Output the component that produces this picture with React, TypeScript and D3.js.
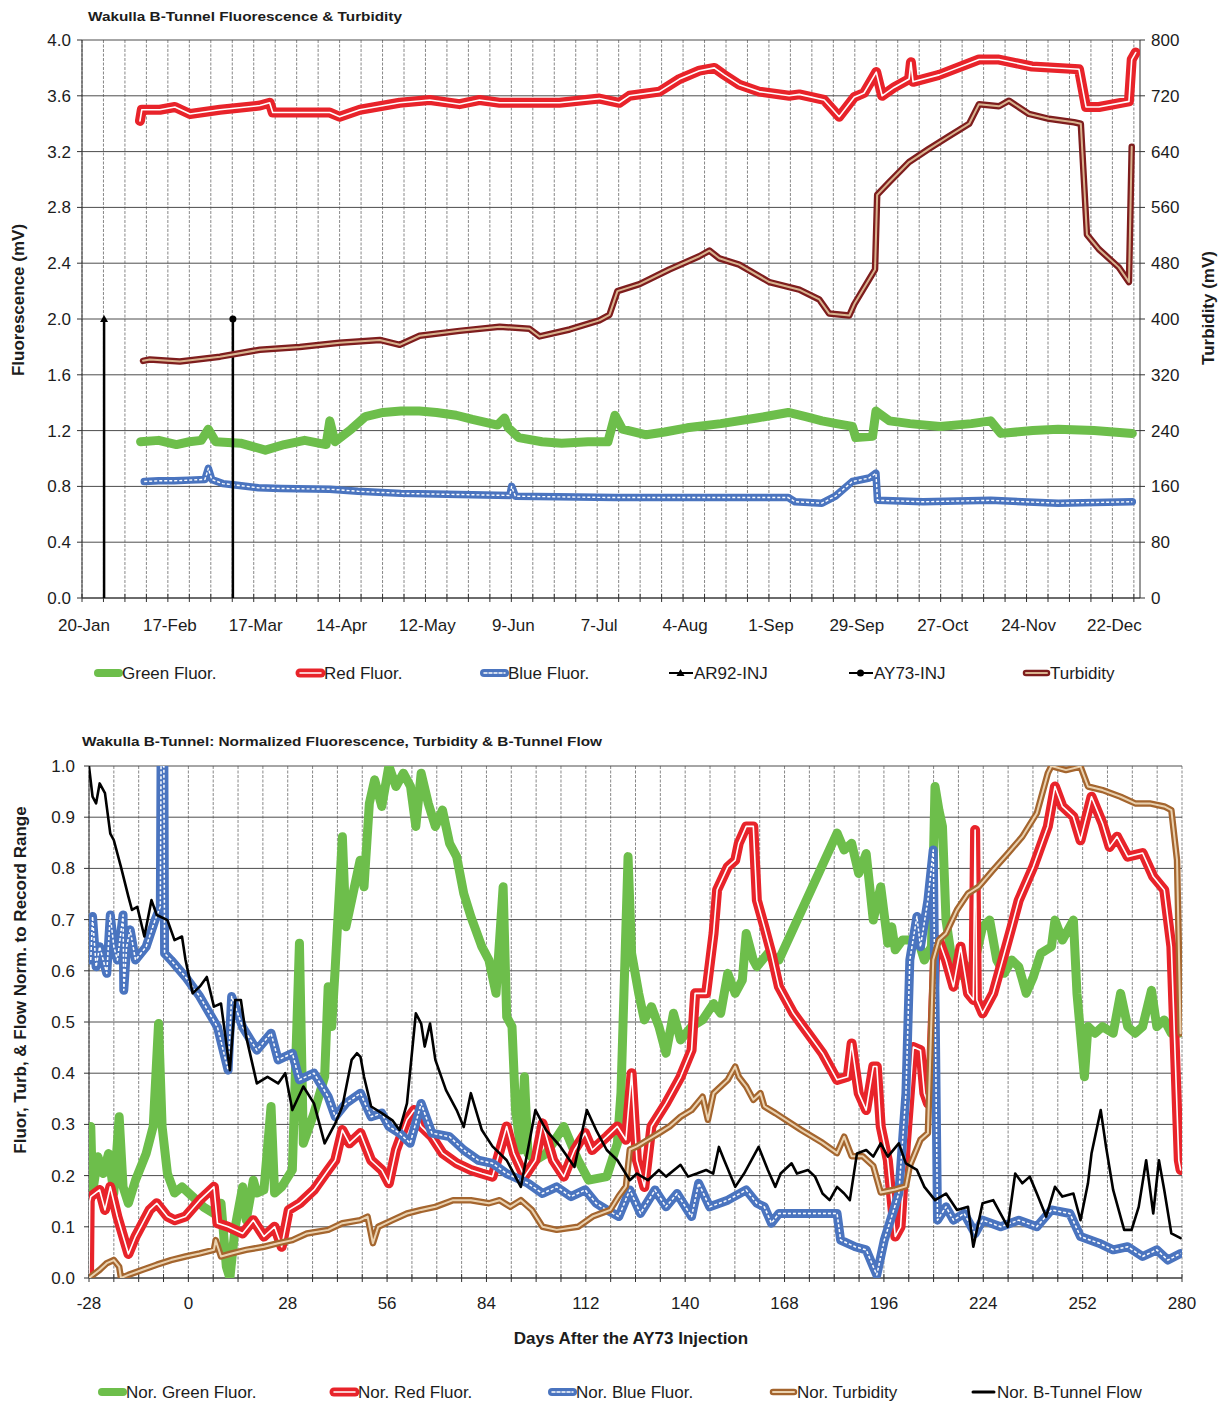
import React from "react";
import * as d3 from "d3";

type P = [number, number];

// ---------- TOP CHART DATA (day 0 = 20-Jan) ----------
const topDayTicks = [0, 28, 56, 84, 112, 140, 168, 196, 224, 252, 280, 308, 336];
const topTickLabels = ["20-Jan", "17-Feb", "17-Mar", "14-Apr", "12-May", "9-Jun", "7-Jul", "4-Aug", "1-Sep", "29-Sep", "27-Oct", "24-Nov", "22-Dec"];
const fluorTicks = [0, 0.4, 0.8, 1.2, 1.6, 2.0, 2.4, 2.8, 3.2, 3.6, 4.0];
const turbTicks = [0, 80, 160, 240, 320, 400, 480, 560, 640, 720, 800];

const greenTop: P[] = [[19.1,1.12],[25,1.13],[30.8,1.10],[35,1.12],[38.9,1.13],[41.2,1.21],[43.6,1.12],[51.7,1.11],[59.8,1.06],[66,1.10],[72.6,1.13],[79.6,1.10],[80.8,1.27],[82.5,1.12],[87.8,1.21],[92.4,1.30],[98.2,1.33],[104,1.34],[110,1.34],[115.6,1.33],[122,1.31],[127.3,1.28],[135.5,1.24],[137.8,1.29],[139,1.22],[142.4,1.15],[150,1.12],[156.4,1.11],[165,1.12],[171.5,1.12],[173.8,1.31],[176.2,1.21],[184,1.17],[190,1.19],[197.3,1.22],[208.3,1.25],[220,1.29],[230.3,1.33],[236,1.30],[241.3,1.27],[246,1.25],[251.2,1.23],[252.3,1.15],[257.8,1.16],[258.9,1.34],[263.3,1.27],[270,1.25],[279.8,1.23],[290,1.25],[296.3,1.27],[299.6,1.18],[310,1.20],[318.3,1.21],[330,1.20],[342.5,1.18]];

const redTop: P[] = [[18.9,3.42],[19.5,3.50],[25.4,3.50],[30.3,3.52],[35.2,3.47],[45,3.50],[58,3.53],[61.2,3.55],[62.2,3.48],[71,3.48],[80.8,3.48],[84,3.45],[90.6,3.50],[103.6,3.55],[113.4,3.57],[123.1,3.54],[129.6,3.57],[136.2,3.55],[145.9,3.55],[155.7,3.55],[168.7,3.58],[175.2,3.55],[178.5,3.60],[188.3,3.63],[194.8,3.72],[201.3,3.78],[206.2,3.80],[209.4,3.75],[214.3,3.68],[220.8,3.63],[230.6,3.60],[233.9,3.61],[242,3.57],[246.9,3.45],[251.8,3.59],[255,3.62],[259,3.77],[260.9,3.60],[264.8,3.66],[269.7,3.72],[270.3,3.84],[271,3.70],[279.5,3.75],[292.5,3.86],[299,3.86],[309.8,3.81],[325.1,3.79],[327.4,3.52],[331.6,3.52],[341.4,3.56],[342.3,3.86],[343.6,3.91]];

const blueTop: P[] = [[20.3,0.835],[25,0.84],[30,0.84],[35,0.845],[40.1,0.85],[41.2,0.93],[42.3,0.85],[45.9,0.82],[50,0.81],[57.5,0.79],[65,0.785],[80.8,0.78],[90,0.765],[104,0.75],[115,0.745],[127.3,0.74],[139.5,0.735],[140.1,0.80],[141.3,0.73],[155,0.725],[173.8,0.72],[190,0.72],[208.3,0.72],[230.3,0.72],[232.5,0.69],[241.3,0.68],[245.7,0.73],[251.2,0.835],[256.7,0.86],[258.9,0.895],[259.4,0.70],[274.3,0.69],[296.3,0.70],[318.3,0.68],[342.5,0.69]];

const turbTop: P[] = [[19.9,340],[22.1,342],[31.9,339],[45,346],[58,356],[71,360],[84,366],[97.1,370],[103.6,363],[110.1,376],[123.1,383],[136.2,389],[145.9,386],[149.2,375],[159,385],[168.7,398],[172,406],[174.6,440],[181.8,450],[191.5,471],[201.3,490],[204.6,498],[207.8,487],[214.3,478],[224.1,453],[233.9,442],[240.4,428],[243.6,408],[250.2,405],[251.8,421],[256.7,457],[258.6,471],[259.3,578],[263.2,596],[269.7,625],[276.2,644],[282.7,662],[289.3,680],[292.5,708],[299,705],[302.3,713],[308.8,694],[315.3,687],[323.5,682],[325.7,680],[327.7,521],[331.6,500],[338.1,474],[341.4,453],[342.3,647]];

const ar92Inj: P[] = [[7.2,0],[7.2,2.0]];
const ay73Inj: P[] = [[49.2,0],[49.2,2.0]];

// ---------- BOTTOM CHART DATA (days after AY73 injection) ----------
const dayTicks = [-28, 0, 28, 56, 84, 112, 140, 168, 196, 224, 252, 280];
const normTicks = [0, 0.1, 0.2, 0.3, 0.4, 0.5, 0.6, 0.7, 0.8, 0.9, 1.0];

const greenBot: P[] = [[-27.5,0.296],[-27,0.166],[-25.5,0.237],[-24,0.204],[-22.5,0.243],[-21,0.166],[-19.5,0.315],[-18.4,0.178],[-16.9,0.146],[-14.9,0.191],[-11.9,0.243],[-9.9,0.296],[-8.4,0.497],[-7.4,0.296],[-5.9,0.204],[-3.9,0.166],[-1.8,0.178],[1.2,0.159],[4.2,0.139],[7.2,0.126],[9.2,0.146],[10.7,0.022],[11.7,0.0],[13.2,0.1],[15.3,0.178],[16.3,0.113],[18.3,0.191],[19.3,0.166],[21.3,0.172],[23.3,0.335],[24.3,0.166],[26.3,0.178],[29.3,0.211],[31.3,0.654],[32.4,0.263],[35.4,0.322],[38.4,0.393],[39.4,0.569],[40.4,0.491],[41.4,0.608],[43.4,0.862],[44.4,0.686],[46.4,0.751],[48.4,0.816],[49.5,0.764],[51,0.927],[52.5,0.973],[54.5,0.921],[56.5,1.0],[58.5,0.96],[60.6,0.986],[62.6,0.96],[64.1,0.882],[65.6,0.986],[67.6,0.927],[69.6,0.882],[71.6,0.914],[73.6,0.849],[75.6,0.823],[77.6,0.751],[79.6,0.706],[82.7,0.647],[84.7,0.621],[86.7,0.556],[88.7,0.764],[89.7,0.510],[91.2,0.491],[92.2,0.328],[93.7,0.25],[94.7,0.393],[95.7,0.243],[97.8,0.23],[100.8,0.243],[105.8,0.296],[109.8,0.23],[112.8,0.191],[117.9,0.198],[120.9,0.263],[121.9,0.361],[123.9,0.823],[124.9,0.634],[126.9,0.556],[128.5,0.504],[130.5,0.530],[132.6,0.491],[134.6,0.439],[136.7,0.517],[138.7,0.465],[141.8,0.491],[144.9,0.504],[148,0.536],[150,0.517],[152,0.595],[154.1,0.556],[156.1,0.582],[157.2,0.673],[159.2,0.621],[160.2,0.608],[163.3,0.634],[166.4,0.621],[182.8,0.869],[184.8,0.836],[186.9,0.849],[188.9,0.790],[191,0.829],[193,0.699],[195.1,0.764],[197.1,0.654],[198.2,0.686],[199.2,0.641],[201.2,0.660],[203.3,0.660],[205.3,0.667],[207.4,0.621],[209.4,0.647],[210.4,0.960],[211.5,0.914],[212.5,0.882],[213.5,0.699],[215.6,0.601],[218.6,0.588],[221.7,0.621],[223.8,0.686],[225.8,0.699],[227.8,0.621],[229.9,0.595],[232,0.621],[234,0.608],[236.1,0.556],[238.1,0.588],[240.2,0.634],[243.2,0.647],[244.2,0.699],[246.3,0.660],[249.4,0.699],[250.4,0.556],[252.5,0.393],[253.5,0.491],[255.5,0.478],[257.6,0.491],[260.6,0.478],[262.7,0.556],[264.7,0.491],[266.8,0.478],[268.9,0.491],[271.4,0.562],[272.9,0.491],[275,0.504],[277,0.478],[279.1,0.478]];

const redBot: P[] = [[-28,0.0],[-27.8,0.15],[-27.5,0.159],[-25,0.172],[-23.5,0.133],[-22,0.178],[-20,0.12],[-16.9,0.047],[-14.9,0.081],[-10.9,0.133],[-8.9,0.146],[-5.9,0.12],[-3.9,0.113],[-0.8,0.12],[3.2,0.152],[7.2,0.178],[8.2,0.107],[11.2,0.1],[15.3,0.087],[18.3,0.113],[21.3,0.081],[24.3,0.1],[26.3,0.061],[28.3,0.133],[31.4,0.146],[35.4,0.172],[39.4,0.211],[41.4,0.23],[43.4,0.289],[45.4,0.263],[48.5,0.283],[51.5,0.23],[54.5,0.211],[56.5,0.185],[58.5,0.25],[61.6,0.309],[63.6,0.328],[65.6,0.296],[68.6,0.276],[71.6,0.244],[75.6,0.224],[79.6,0.211],[82.7,0.204],[85.7,0.198],[89.7,0.296],[91.7,0.244],[94.7,0.198],[97.8,0.23],[99.8,0.302],[102.8,0.23],[105.8,0.198],[108.8,0.25],[111.8,0.283],[113.8,0.25],[117.9,0.276],[120.9,0.296],[123.3,0.27],[124.9,0.4],[126.4,0.23],[128.5,0.178],[130.5,0.296],[134.6,0.341],[138.7,0.393],[141.8,0.445],[142.8,0.556],[145.9,0.556],[148,0.673],[149,0.758],[152,0.803],[154.1,0.816],[155.1,0.849],[157.2,0.882],[159.2,0.882],[160.2,0.738],[162.3,0.686],[164.3,0.634],[166.4,0.569],[170.5,0.517],[174.6,0.478],[178.7,0.439],[182.8,0.387],[185.8,0.393],[186.9,0.458],[188.9,0.361],[191,0.328],[193,0.413],[194,0.413],[195.1,0.296],[197.1,0.23],[199.2,0.081],[200.7,0.1],[202.2,0.263],[204.3,0.451],[206.3,0.445],[207.4,0.361],[208.4,0.341],[209.4,0.426],[210.4,0.621],[211.5,0.66],[213.5,0.621],[215.6,0.569],[217.6,0.647],[219.7,0.556],[221.2,0.543],[221.7,0.875],[222.2,0.543],[223.8,0.517],[226.8,0.556],[228.9,0.608],[232,0.686],[234,0.738],[238.1,0.803],[242.2,0.882],[244.2,0.960],[246.3,0.921],[249.4,0.901],[251.4,0.855],[254.5,0.940],[257.6,0.888],[259.6,0.842],[261.7,0.862],[264.7,0.823],[268.9,0.830],[271.9,0.784],[275,0.758],[277,0.647],[279.1,0.23],[279.6,0.211]];

const blueBot: P[] = [[-27.5,0.621],[-27,0.706],[-26,0.608],[-25,0.647],[-23,0.595],[-22,0.709],[-21,0.647],[-20,0.621],[-18.4,0.709],[-18.2,0.562],[-17.4,0.647],[-16.4,0.68],[-14.9,0.621],[-11.9,0.647],[-9.4,0.699],[-7.9,0.725],[-7.7,1.0],[-6.9,1.0],[-6.7,0.634],[-4.9,0.621],[-0.8,0.588],[3.2,0.55],[8.2,0.49],[11.2,0.406],[12.2,0.55],[15.3,0.49],[19.3,0.445],[23.3,0.478],[25.3,0.426],[29.3,0.439],[31.3,0.387],[35.4,0.40],[39.4,0.354],[41.4,0.315],[44.4,0.341],[48.5,0.361],[51.5,0.315],[54.5,0.322],[56.5,0.296],[59.5,0.283],[62.5,0.263],[65.6,0.341],[68.6,0.283],[73.6,0.276],[77.6,0.25],[81.7,0.23],[85.7,0.224],[89.7,0.204],[95.7,0.185],[99.8,0.165],[103.8,0.178],[107.8,0.159],[111.8,0.172],[114.9,0.146],[117.9,0.133],[121.3,0.12],[124.4,0.172],[127.4,0.126],[131.5,0.172],[134.6,0.139],[137.7,0.165],[141.8,0.12],[143.8,0.185],[146.9,0.139],[152,0.152],[157.2,0.172],[160.2,0.146],[162.3,0.139],[164.3,0.107],[166.4,0.126],[182.8,0.126],[183.8,0.074],[187.9,0.061],[191,0.055],[193,0.022],[194,0.006],[196.1,0.074],[200.2,0.165],[202.2,0.36],[203.3,0.621],[205.3,0.706],[206.3,0.647],[208.4,0.738],[209.9,0.836],[210.6,0.426],[211.1,0.113],[213.5,0.139],[215.6,0.113],[218.6,0.126],[221.7,0.087],[223.8,0.113],[228.9,0.1],[234,0.113],[239.1,0.1],[243.2,0.133],[248.4,0.126],[251.4,0.081],[256.6,0.068],[260.6,0.055],[264.7,0.061],[268.9,0.042],[272.9,0.055],[276,0.035],[279.6,0.048]];

const turbBot: P[] = [[-28,0.0],[-25,0.016],[-23,0.029],[-21,0.035],[-19.5,0.022],[-19,0.0],[-16.9,0.006],[-12.9,0.016],[-8.9,0.026],[-4.9,0.035],[-0.8,0.042],[3.2,0.048],[7.2,0.055],[7.7,0.074],[9.2,0.042],[12.2,0.048],[16.3,0.055],[21.3,0.061],[25.3,0.068],[29.3,0.074],[33.4,0.087],[39.4,0.094],[43.4,0.107],[48.4,0.113],[50.5,0.12],[52,0.068],[53.5,0.1],[57.5,0.113],[61.6,0.126],[65.6,0.133],[69.6,0.139],[74.6,0.152],[79.6,0.152],[84.7,0.146],[87.7,0.152],[90.7,0.139],[93.7,0.152],[96.8,0.133],[99.8,0.1],[103.8,0.094],[109.8,0.1],[113.9,0.12],[118.9,0.133],[121.3,0.16],[123.3,0.179],[124.4,0.251],[126.4,0.257],[129.5,0.27],[132.6,0.283],[135.6,0.296],[138.7,0.315],[141.8,0.328],[144.9,0.354],[146.4,0.309],[148,0.361],[152,0.387],[154.1,0.413],[155.1,0.393],[157.2,0.374],[159.2,0.348],[161.2,0.361],[162.3,0.335],[165.4,0.322],[172.5,0.29],[178.7,0.264],[182.8,0.244],[184.8,0.276],[186.9,0.238],[190,0.238],[193,0.219],[195.1,0.167],[199.2,0.173],[202.2,0.179],[203.3,0.219],[206.3,0.27],[208.4,0.283],[209.9,0.621],[211.5,0.660],[213.5,0.673],[216.6,0.719],[219.7,0.751],[222.7,0.764],[226.8,0.797],[231,0.830],[235,0.862],[239.1,0.908],[242.2,0.986],[243.2,1.0],[247.3,0.992],[251.4,0.999],[253.5,0.960],[257.6,0.953],[262.7,0.940],[266.8,0.927],[270.9,0.927],[275,0.921],[277,0.914],[278.6,0.816],[279.6,0.478]];

const flowBot: P[] = [[-28,0.999],[-27,0.94],[-26,0.927],[-25,0.966],[-23.5,0.947],[-22,0.868],[-21,0.855],[-19,0.803],[-16.9,0.745],[-15.9,0.719],[-14.4,0.725],[-12.4,0.667],[-10.4,0.738],[-8.9,0.709],[-5.9,0.699],[-3.9,0.66],[-1.8,0.667],[-0.8,0.621],[1.2,0.556],[3.2,0.569],[5.2,0.588],[7.2,0.530],[9.2,0.536],[11.7,0.406],[13.2,0.543],[14.8,0.543],[16.3,0.471],[19.3,0.38],[22.3,0.393],[25.3,0.38],[27.3,0.40],[29.3,0.328],[32.4,0.374],[35.4,0.341],[38.4,0.263],[41.4,0.302],[43.4,0.335],[46,0.426],[47.5,0.439],[48.5,0.432],[49.5,0.393],[51.5,0.335],[54.5,0.322],[57.5,0.308],[59.5,0.289],[61.6,0.341],[64.1,0.517],[65.6,0.497],[66.6,0.452],[68.1,0.497],[69.6,0.426],[72.6,0.367],[75.6,0.328],[77.6,0.295],[79.6,0.361],[82.7,0.289],[85.7,0.257],[89.7,0.23],[93.7,0.178],[97.8,0.328],[100.8,0.289],[104.8,0.257],[108.8,0.217],[112.3,0.328],[114.9,0.289],[117.9,0.25],[120.9,0.23],[124.4,0.191],[126.4,0.204],[129.5,0.191],[132.6,0.211],[134.6,0.198],[138.7,0.221],[140.8,0.198],[143.3,0.204],[145.9,0.211],[147.9,0.204],[149.5,0.256],[151,0.23],[154.1,0.178],[156.6,0.204],[160.7,0.256],[163.3,0.211],[165.4,0.178],[166.9,0.204],[170,0.224],[171.5,0.204],[174.6,0.211],[176.6,0.198],[178.7,0.165],[180.7,0.152],[182.8,0.178],[184.8,0.165],[186.4,0.152],[188.4,0.243],[191,0.25],[193,0.237],[195.1,0.263],[197.1,0.237],[200.2,0.263],[202.2,0.224],[205.3,0.211],[207.4,0.178],[210.4,0.152],[213.5,0.165],[216.6,0.133],[219.7,0.139],[221.2,0.061],[223.8,0.146],[226.8,0.152],[230.9,0.1],[233,0.204],[235,0.185],[237.1,0.198],[239.1,0.165],[241.7,0.12],[244.2,0.178],[246.3,0.159],[249.4,0.165],[251.4,0.113],[253.5,0.185],[254.5,0.243],[257.1,0.328],[258.6,0.256],[260.6,0.172],[263.7,0.094],[265.8,0.094],[267.8,0.139],[269.9,0.23],[271.9,0.126],[273.5,0.23],[275,0.172],[277,0.087],[279.6,0.078]];

// ---------- STYLE ----------
const FONT = "'Liberation Sans', Arial, Helvetica, sans-serif";
const GREEN = "#6DBE4B";
const RED = "#E8232A";
const BLUE = "#4A74BF";
const MAROON = "#7E1D1D";
const MAROON_IN = "#D9B48F";
const BROWN = "#A4652E";
const BROWN_IN = "#EAD2B0";
const TXT = "#1c1c1c";

function lineGen(xs: d3.ScaleLinear<number, number>, ys: d3.ScaleLinear<number, number>) {
  return d3.line<P>().x((d) => xs(d[0])).y((d) => ys(d[1]));
}

type SwatchKind = "green" | "red" | "blue" | "maroon" | "brown" | "black" | "tri" | "circ";

function Swatch({ x, y, kind }: { x: number; y: number; kind: SwatchKind }) {
  const x2 = x + 27;
  const L = (stroke: string, w: number, extra: any = {}) => (
    <line x1={x + 3} x2={x2 - 3} y1={y} y2={y} stroke={stroke} strokeWidth={w} strokeLinecap="round" {...extra} />
  );
  switch (kind) {
    case "green":
      return L(GREEN, 8);
    case "red":
      return <g>{L(RED, 9)}{L("#fff", 1.5)}</g>;
    case "blue":
      return <g>{L(BLUE, 8)}{L("#fff", 1.5, { strokeDasharray: "3,2" })}</g>;
    case "maroon":
      return <g>{L(MAROON, 6.5)}{L(MAROON_IN, 2)}</g>;
    case "brown":
      return <g>{L(BROWN, 6.5)}{L(BROWN_IN, 2)}</g>;
    case "black":
      return L("#000", 3);
    case "tri":
      return (
        <g>
          <line x1={x + 2} x2={x2 - 1} y1={y} y2={y} stroke="#000" strokeWidth={2} />
          <path d={`M${x + 13.5},${y - 4} L${x + 17.5},${y + 3} L${x + 9.5},${y + 3} Z`} fill="#000" />
        </g>
      );
    case "circ":
      return (
        <g>
          <line x1={x + 2} x2={x2 - 1} y1={y} y2={y} stroke="#000" strokeWidth={2} />
          <circle cx={x + 13.5} cy={y} r={3.5} fill="#000" />
        </g>
      );
  }
  return null;
}

export default function App() {
  // ---- top chart geometry ----
  const T = { left: 82, right: 1140, top: 40, bottom: 598 };
  const xT = d3.scaleLinear().domain([0, 345]).range([T.left, T.right]);
  const yT = d3.scaleLinear().domain([0, 4]).range([T.bottom, T.top]);
  const yT2 = d3.scaleLinear().domain([0, 800]).range([T.bottom, T.top]);
  const lT = lineGen(xT, yT);
  const lT2 = lineGen(xT, yT2);
  const weeksTop = d3.range(0, 346, 7);

  // ---- bottom chart geometry ----
  const B = { left: 89, right: 1182, top: 766, bottom: 1278 };
  const xB = d3.scaleLinear().domain([-28, 280]).range([B.left, B.right]);
  const yB = d3.scaleLinear().domain([0, 1]).range([B.bottom, B.top]);
  const lB = lineGen(xB, yB);
  const weeksBot = d3.range(-28, 281, 7);

  const gridV = (xs: number[], y1: number, y2: number, key: string) =>
    xs.map((x, i) => (
      <line key={key + i} x1={x} x2={x} y1={y1} y2={y2} stroke="#6a6a6a" strokeWidth={0.8} strokeDasharray="3,1.5" />
    ));

  const topLegend: { label: string; kind: SwatchKind; x: number }[] = [
    { label: "Green Fluor.", kind: "green", x: 95 },
    { label: "Red Fluor.", kind: "red", x: 297 },
    { label: "Blue Fluor.", kind: "blue", x: 481 },
    { label: "AR92-INJ", kind: "tri", x: 667 },
    { label: "AY73-INJ", kind: "circ", x: 847 },
    { label: "Turbidity", kind: "maroon", x: 1023 },
  ];
  const botLegend: { label: string; kind: SwatchKind; x: number }[] = [
    { label: "Nor. Green Fluor.", kind: "green", x: 99 },
    { label: "Nor. Red Fluor.", kind: "red", x: 331 },
    { label: "Nor. Blue Fluor.", kind: "blue", x: 549 },
    { label: "Nor. Turbidity", kind: "brown", x: 770 },
    { label: "Nor. B-Tunnel Flow", kind: "black", x: 970 },
  ];

  const injTop = (pts: P[]) => pts[pts.length - 1];

  return (
    <svg
      width={1227}
      height={1404}
      viewBox="0 0 1227 1404"
      style={{ position: "absolute", left: 0, top: 0, background: "#fff", fontFamily: FONT }}
    >
      <rect x={0} y={0} width={1227} height={1404} fill="#fff" />
      <defs>
        <clipPath id="clipT">
          <rect x={T.left} y={T.top} width={T.right - T.left} height={T.bottom - T.top} />
        </clipPath>
        <clipPath id="clipB">
          <rect x={B.left} y={B.top} width={B.right - B.left} height={B.bottom - B.top} />
        </clipPath>
      </defs>

      {/* ================= TOP CHART ================= */}
      <text x={88} y={21} fontSize={13} fontWeight="bold" fill={TXT} textLength={314} lengthAdjust="spacingAndGlyphs">
        Wakulla B-Tunnel Fluorescence &amp; Turbidity
      </text>

      {gridV(weeksTop.map((d) => xT(d)), T.top, T.bottom, "tv")}
      {fluorTicks.map((v) => (
        <line key={"th" + v} x1={T.left} x2={T.right} y1={yT(v)} y2={yT(v)} stroke="#4d4d4d" strokeWidth={1} />
      ))}
      <line x1={T.left} x2={T.left} y1={T.top} y2={T.bottom} stroke="#333" strokeWidth={1} />
      <line x1={T.right} x2={T.right} y1={T.top} y2={T.bottom} stroke="#333" strokeWidth={1} />
      <line x1={T.left} x2={T.right} y1={T.bottom} y2={T.bottom} stroke="#333" strokeWidth={1} />
      {weeksTop.map((d) => (
        <line key={"tt" + d} x1={xT(d)} x2={xT(d)} y1={T.bottom - 4} y2={T.bottom + 4} stroke="#333" strokeWidth={1} />
      ))}
      {fluorTicks.map((v) => (
        <g key={"ty" + v}>
          <line x1={T.left - 5} x2={T.left} y1={yT(v)} y2={yT(v)} stroke="#333" />
          <text x={T.left - 11} y={yT(v)} dy="0.35em" textAnchor="end" fontSize={17} fill={TXT}>
            {v.toFixed(1)}
          </text>
        </g>
      ))}
      {turbTicks.map((v) => (
        <g key={"ty2" + v}>
          <line x1={T.right} x2={T.right + 5} y1={yT2(v)} y2={yT2(v)} stroke="#333" />
          <text x={T.right + 11} y={yT2(v)} dy="0.35em" textAnchor="start" fontSize={17} fill={TXT}>
            {v}
          </text>
        </g>
      ))}
      {topDayTicks.map((d, i) => (
        <text key={"tx" + d} x={xT(d) + 2} y={631} textAnchor="middle" fontSize={17} fill={TXT}>
          {topTickLabels[i]}
        </text>
      ))}
      <text transform="translate(24,300) rotate(-90)" textAnchor="middle" fontSize={17} fontWeight="bold" fill={TXT}>
        Fluorescence (mV)
      </text>
      <text transform="translate(1214,308) rotate(-90)" textAnchor="middle" fontSize={17} fontWeight="bold" fill={TXT}>
        Turbidity (mV)
      </text>

      <g clipPath="url(#clipT)" fill="none" strokeLinejoin="round" strokeLinecap="round">
        <path d={lT(greenTop) || ""} stroke={GREEN} strokeWidth={9} />
        <path d={lT(redTop) || ""} stroke={RED} strokeWidth={10} />
        <path d={lT(redTop) || ""} stroke="#fff" strokeWidth={1.6} />
        <path d={lT(blueTop) || ""} stroke={BLUE} strokeWidth={7.5} />
        <path d={lT(blueTop) || ""} stroke="#fff" strokeWidth={1.4} strokeDasharray="3,2" strokeLinecap="butt" />
        <path d={lT(ar92Inj) || ""} stroke="#000" strokeWidth={2.5} strokeLinecap="butt" />
        <path d={lT(ay73Inj) || ""} stroke="#000" strokeWidth={2.5} strokeLinecap="butt" />
        <path d={lT2(turbTop) || ""} stroke={MAROON} strokeWidth={6.5} />
        <path d={lT2(turbTop) || ""} stroke={MAROON_IN} strokeWidth={2} />
      </g>
      {(() => {
        const a = injTop(ar92Inj);
        const b = injTop(ay73Inj);
        const ax = xT(a[0]), ay = yT(a[1]);
        return (
          <g>
            <path d={`M${ax},${ay - 4} L${ax + 4},${ay + 3} L${ax - 4},${ay + 3} Z`} fill="#000" />
            <circle cx={xT(b[0])} cy={yT(b[1])} r={3.5} fill="#000" />
          </g>
        );
      })()}

      {topLegend.map((e) => (
        <g key={e.label}>
          <Swatch x={e.x} y={673} kind={e.kind} />
          <text x={e.x + 27} y={673} dy="0.35em" fontSize={17} fill={TXT}>
            {e.label}
          </text>
        </g>
      ))}

      {/* ================= BOTTOM CHART ================= */}
      <text x={82} y={746} fontSize={13} fontWeight="bold" fill={TXT} textLength={520} lengthAdjust="spacingAndGlyphs">
        Wakulla B-Tunnel: Normalized Fluorescence, Turbidity &amp; B-Tunnel Flow
      </text>

      {gridV(weeksBot.map((d) => xB(d)), B.top, B.bottom, "bv")}
      {normTicks.map((v) => (
        <line key={"bh" + v} x1={B.left} x2={B.right} y1={yB(v)} y2={yB(v)} stroke="#4d4d4d" strokeWidth={1} />
      ))}
      <line x1={B.left} x2={B.left} y1={B.top} y2={B.bottom} stroke="#333" strokeWidth={1} />
      <line x1={B.left} x2={B.right} y1={B.bottom} y2={B.bottom} stroke="#333" strokeWidth={1} />
      {weeksBot.map((d) => (
        <line key={"bt" + d} x1={xB(d)} x2={xB(d)} y1={B.bottom - 4} y2={B.bottom + 4} stroke="#333" strokeWidth={1} />
      ))}
      {normTicks.map((v) => (
        <g key={"by" + v}>
          <line x1={B.left - 5} x2={B.left} y1={yB(v)} y2={yB(v)} stroke="#333" />
          <text x={B.left - 14} y={yB(v)} dy="0.35em" textAnchor="end" fontSize={17} fill={TXT}>
            {v.toFixed(1)}
          </text>
        </g>
      ))}
      {dayTicks.map((d) => (
        <text key={"bx" + d} x={xB(d)} y={1309} textAnchor="middle" fontSize={17} fill={TXT}>
          {d}
        </text>
      ))}
      <text x={631} y={1344} textAnchor="middle" fontSize={17} fontWeight="bold" fill={TXT}>
        Days After the AY73 Injection
      </text>
      <text transform="translate(26,980) rotate(-90)" textAnchor="middle" fontSize={17} fontWeight="bold" fill={TXT}>
        Fluor, Turb, &amp; Flow Norm. to Record Range
      </text>

      <g clipPath="url(#clipB)" fill="none" strokeLinejoin="round" strokeLinecap="round">
        <path d={lB(greenBot) || ""} stroke={GREEN} strokeWidth={9} />
        <path d={lB(redBot) || ""} stroke={RED} strokeWidth={10} />
        <path d={lB(redBot) || ""} stroke="#fff" strokeWidth={1.6} />
        <path d={lB(blueBot) || ""} stroke={BLUE} strokeWidth={9} />
        <path d={lB(blueBot) || ""} stroke="#fff" strokeWidth={1.5} strokeDasharray="3,2" strokeLinecap="butt" />
        <path d={lB(turbBot) || ""} stroke={BROWN} strokeWidth={6.5} />
        <path d={lB(turbBot) || ""} stroke={BROWN_IN} strokeWidth={2} />
        <path d={lB(flowBot) || ""} stroke="#000" strokeWidth={2.6} />
      </g>

      {botLegend.map((e) => (
        <g key={e.label}>
          <Swatch x={e.x} y={1392} kind={e.kind} />
          <text x={e.x + 27} y={1392} dy="0.35em" fontSize={17} fill={TXT}>
            {e.label}
          </text>
        </g>
      ))}
    </svg>
  );
}
